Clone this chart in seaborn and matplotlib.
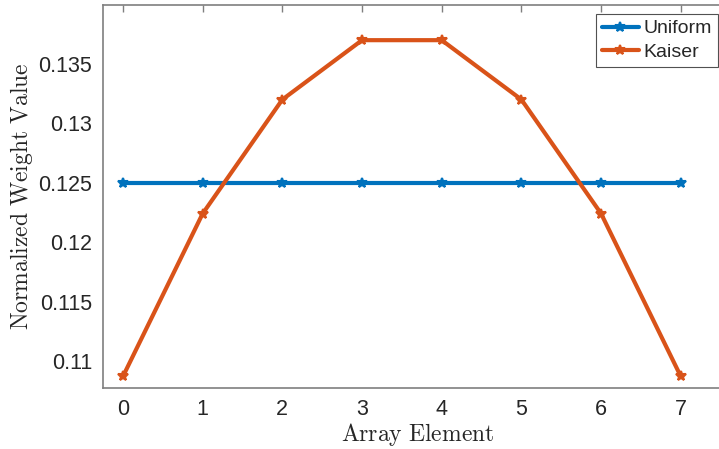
import numpy as np
import pandas as pd
import matplotlib
matplotlib.use("Agg")
import matplotlib.pyplot as plt
import seaborn as sns

# Array element weights (8-element array), normalized to sum to 1
elements = [0, 1, 2, 3, 4, 5, 6, 7]
uniform = [0.125, 0.125, 0.125, 0.125, 0.125, 0.125, 0.125, 0.125]
kaiser = [0.1087, 0.1224, 0.1320, 0.1370, 0.1370, 0.1320, 0.1224, 0.1087]
series_names = ["Uniform", "Kaiser"]
y_ticks = [0.11, 0.115, 0.12, 0.125, 0.13, 0.135]
y_tick_labels = ["0.11", "0.115", "0.12", "0.125", "0.13", "0.135"]

df = pd.DataFrame({
    "Element": elements * 2,
    "Weight": uniform + kaiser,
    "Window": [series_names[0]] * len(elements) + [series_names[1]] * len(elements),
})

sns.set_style("white")
plt.rcParams["font.family"] = ["Liberation Sans", "DejaVu Sans"]
plt.rcParams["mathtext.fontset"] = "cm"

fig = plt.figure(figsize=(7.19, 4.49), dpi=100)
# Axes run past the right edge of the canvas, so only three sides of the box show
ax_width_px = 678
ax = fig.add_axes([103 / 719, 61 / 449, ax_width_px / 719, 383 / 449])

palette = {"Uniform": "#0072BD", "Kaiser": "#D95319"}
sns.lineplot(data=df, x="Element", y="Weight", hue="Window", palette=palette,
             marker="*", markersize=7, markeredgewidth=1.5, linewidth=3,
             ax=ax, legend=True)
for line in ax.lines:
    line.set_markeredgecolor(line.get_color())

ax.set_xlim(-0.25, -0.25 + ax_width_px / 79.7)
ax.set_ylim(0.10773, 0.13996)
ax.set_xticks(elements)
ax.set_xticklabels([str(e) for e in elements])
ax.set_yticks(y_ticks)
ax.set_yticklabels(y_tick_labels)

axis_grey = "#7f7f7f"
for s in ax.spines.values():
    s.set_color(axis_grey)
    s.set_linewidth(1.2)
ax.spines["right"].set_visible(False)
ax.tick_params(axis="both", which="both", direction="in", length=5, width=1,
               color=axis_grey, labelsize=15.5, labelcolor="#262626",
               top=True, right=False, pad=8)

ax.set_xlabel(r"$\mathrm{Array\ Element}$", fontsize=17, color="#262626")
ax.set_ylabel(r"$\mathrm{Normalized\ Weight\ Value}$", fontsize=17, color="#262626", labelpad=2)
# Center the x label under the visible tick range
ax.xaxis.set_label_coords((418 - 103) / ax_width_px, -0.085)

handles, labels = ax.get_legend_handles_labels()
for h in handles:
    h.set_markeredgecolor(h.get_color())
leg = ax.legend(handles, labels, loc="upper right", bbox_to_anchor=(718 / 719, 1 - 14 / 449),
                bbox_transform=fig.transFigure, fontsize=14, frameon=True, fancybox=False,
                handlelength=1.9, handletextpad=0.25, borderpad=0.3, labelspacing=0.3,
                borderaxespad=0)
leg.get_frame().set_edgecolor("#262626")
leg.get_frame().set_linewidth(0.8)

fig.savefig("out.png", dpi=100)
